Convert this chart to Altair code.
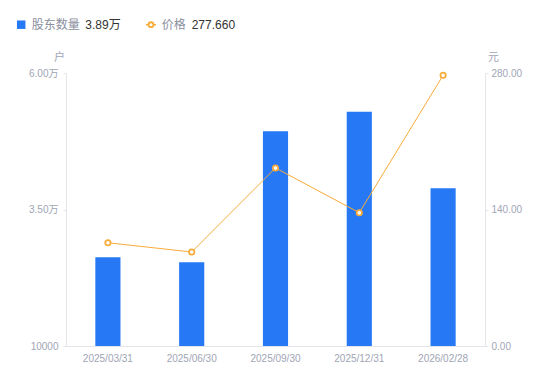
import altair as alt
import pandas as pd

dates = ["2025/03/31", "2025/06/30", "2025/09/30", "2025/12/31", "2026/02/28"]
holders = [26250, 25330, 49320, 52910, 38900]
prices = [105.9, 96.4, 182.6, 136.7, 277.66]

left_ticks = [10000, 35000, 60000]
right_ticks = [0, 140, 280]

BLUE = "#2678F4"
ORANGE = "#F7AC3A"
LABEL = "#A0A5B5"
AXIS = "#E3E5EB"
FONT = "Liberation Sans, Noto Sans CJK SC"

df = pd.DataFrame({"date": dates, "holders": holders, "price": prices})

x = alt.X("date:N", sort=None, title=None,
          scale=alt.Scale(paddingInner=0.7, paddingOuter=0.35),
          axis=alt.Axis(labelAngle=0, ticks=False, domainColor=AXIS, labelColor=LABEL,
                        labelFontSize=10, labelPadding=7, labelFont=FONT))

bars = alt.Chart(df).mark_bar(color=BLUE).encode(
    x=x,
    y=alt.Y("holders:Q", scale=alt.Scale(domain=[10000, 60000], zero=False, nice=False),
            axis=alt.Axis(values=left_ticks, grid=False, domainColor=AXIS, tickColor=AXIS,
                          tickSize=3, labelColor=LABEL, labelFontSize=10, labelPadding=5,
                          labelFont=FONT,
                          labelExpr="datum.value == 10000 ? '10000' : format(datum.value/10000, '.2f') + '万'",
                          title="户", titleAngle=0, titleX=-7, titleY=-16, titleAlign="center",
                          titleBaseline="middle", titleColor=LABEL, titleFontSize=11,
                          titleFontWeight="normal", titleFont=FONT)),
    y2=alt.datum(10000),
)

price_axis = alt.Axis(orient="right", values=right_ticks, format=".2f", grid=False,
                      domainColor=AXIS, tickColor=AXIS, tickSize=3, labelColor=LABEL,
                      labelFontSize=10, labelPadding=3, labelFont=FONT,
                      title="元", titleAngle=0, titleX=8, titleY=-16, titleAlign="center",
                      titleBaseline="middle", titleColor=LABEL, titleFontSize=11,
                      titleFontWeight="normal", titleFont=FONT)
py = alt.Y("price:Q", scale=alt.Scale(domain=[0, 280], nice=False), axis=price_axis)

line = alt.Chart(df).mark_line(color=ORANGE, strokeWidth=1).encode(x=x, y=py)
pts = alt.Chart(df).mark_point(shape="circle", filled=True, fill="white", stroke=ORANGE,
                               strokeWidth=1.8, size=28, opacity=1).encode(x=x, y=py)
price_layer = alt.layer(line, pts)

leg = pd.DataFrame({"a": [0]})
leg_base = alt.Chart(leg)
sq = leg_base.mark_square(color=BLUE, size=72, opacity=1).encode(
    x=alt.value(-44.8), y=alt.value(-48.3))
t1 = leg_base.mark_text(text="股东数量", align="left", baseline="middle", fontSize=12,
                        color="#8A8F9E", font=FONT).encode(x=alt.value(-34.3), y=alt.value(-48.3))
t2 = leg_base.mark_text(text=f"{holders[-1]/10000:.2f}万", align="left", baseline="middle",
                        fontSize=12, color="#333333", font=FONT).encode(
    x=alt.value(19.3), y=alt.value(-48.3))
lr = leg_base.mark_rule(color=ORANGE, strokeWidth=1.5).encode(
    x=alt.value(80), x2=alt.value(90), y=alt.value(-48.3))
lp = leg_base.mark_point(shape="circle", filled=True, fill="white", stroke=ORANGE,
                         strokeWidth=1.8, size=24, opacity=1).encode(
    x=alt.value(85), y=alt.value(-48.3))
t3 = leg_base.mark_text(text="价格", align="left", baseline="middle", fontSize=12,
                        color="#8A8F9E", font=FONT).encode(x=alt.value(95.7), y=alt.value(-48.3))
t4 = leg_base.mark_text(text=f"{prices[-1]:.3f}", align="left", baseline="middle",
                        fontSize=12, color="#333333", font=FONT).encode(
    x=alt.value(125.7), y=alt.value(-48.3))

chart = alt.layer(bars, price_layer, sq, t1, t2, lr, lp, t3, t4).resolve_scale(
    y="independent"
).properties(
    width=419, height=273,
    autosize=alt.AutoSizeParams(type="none"),
    padding={"left": 58, "top": 65, "right": 57, "bottom": 27},
).configure_view(stroke=None)

chart.save("out.html", embed_options={"renderer": "svg", "actions": False})
